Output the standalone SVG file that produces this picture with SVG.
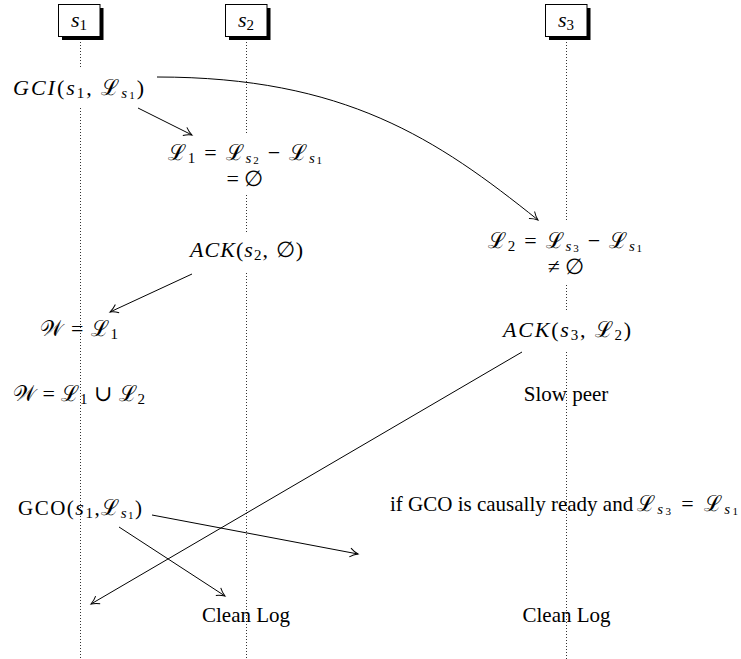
<svg xmlns="http://www.w3.org/2000/svg" width="741" height="659" viewBox="0 0 741 659">
<style>
.t{font-family:"Liberation Serif","DejaVu Serif",serif;font-size:21px;fill:#000}
.m{font-size:22px}
.i{font-style:italic}
.L{font-family:"DejaVu Serif",serif;font-style:normal;font-size:22px}
.W{font-style:normal;font-size:22px}
.sb{font-size:15px}
.ss{font-size:11px}
.life{stroke:#333;stroke-width:1;stroke-dasharray:1 2;fill:none}
.box{fill:#fff;stroke:#000;stroke-width:1}
.shadow{fill:#000}
.c{stroke:#000;stroke-width:1;fill:none;marker-end:url(#to)}
</style>
<defs>
<marker id="to" viewBox="-10 -6 12 12" refX="0" refY="0" markerWidth="12" markerHeight="12" markerUnits="userSpaceOnUse" orient="auto">
<path d="M-8,-4.5 C-5,-2 -2,-0.7 0,0 C-2,0.7 -5,2 -8,4.5" fill="none" stroke="#000" stroke-width="1"/>
</marker>
</defs>
<rect width="741" height="659" fill="#fff"/>
<g id="lifelines">
<path class="life" d="M80.5,42V68M80.5,108V659"/>
<path class="life" d="M246.5,42V135M246.5,195V232M246.5,273V659"/>
<path class="life" d="M566.5,42V220M566.5,285V310M566.5,352V659"/>
</g>
<g id="s1">
<rect class="shadow" x="62" y="8" width="41.5" height="32"/>
<rect class="box" x="58.5" y="4.5" width="41.5" height="32"/>
<text class="t m" x="79" y="27" text-anchor="middle"><tspan class="i">s</tspan><tspan class="sb" dy="3">1</tspan></text>
</g>
<g id="s2">
<rect class="shadow" x="229" y="8" width="41.5" height="32"/>
<rect class="box" x="225.5" y="4.5" width="41.5" height="32"/>
<text class="t m" x="246" y="27" text-anchor="middle"><tspan class="i">s</tspan><tspan class="sb" dy="3">2</tspan></text>
</g>
<g id="s3">
<rect class="shadow" x="549" y="8" width="41.5" height="32"/>
<rect class="box" x="545.5" y="4.5" width="41.5" height="32"/>
<text class="t m" x="566" y="27" text-anchor="middle"><tspan class="i">s</tspan><tspan class="sb" dy="3">3</tspan></text>
</g>
<g id="connectors">
<path class="c" d="M138,108L192,135"/>
<path class="c" d="M157,77C345,77 437,139 538,220"/>
<path class="c" d="M192,274L110,312"/>
<path class="c" d="M522,352L91,604"/>
<path class="c" d="M152,515L358,554"/>
<path class="c" d="M119,527L225,596"/>
</g>
<g id="gci">
<text class="t m" x="13" y="95" textLength="131" lengthAdjust="spacing"><tspan class="i">GCI</tspan>(<tspan class="i">s</tspan><tspan class="sb" dy="3">1</tspan><tspan dy="-3">, </tspan><tspan class="L">ℒ</tspan><tspan class="sb i" dy="3">s</tspan><tspan class="ss" dy="1">1</tspan><tspan dy="-4">)</tspan></text>
</g>
<g id="l1">
<text class="t m" x="168" y="160" textLength="154" lengthAdjust="spacing"><tspan class="L">ℒ</tspan><tspan class="sb" dy="3">1</tspan><tspan dy="-3"> = </tspan><tspan class="L">ℒ</tspan><tspan class="sb i" dy="3">s</tspan><tspan class="ss" dy="1">2</tspan><tspan dy="-4"> − </tspan><tspan class="L">ℒ</tspan><tspan class="sb i" dy="3">s</tspan><tspan class="ss" dy="1">1</tspan></text>
<text class="t m" x="245" y="186" text-anchor="middle">= ∅</text>
</g>
<g id="ack2">
<text class="t m" x="190" y="257" textLength="113" lengthAdjust="spacing"><tspan class="i">ACK</tspan>(<tspan class="i">s</tspan><tspan class="sb" dy="3">2</tspan><tspan dy="-3">, ∅)</tspan></text>
</g>
<g id="w1">
<text class="t m" x="40" y="336" textLength="78" lengthAdjust="spacing"><tspan class="W">𝒲</tspan> = <tspan class="L">ℒ</tspan><tspan class="sb" dy="3">1</tspan></text>
</g>
<g id="w2">
<text class="t m" x="13" y="401" textLength="132" lengthAdjust="spacing"><tspan class="W">𝒲</tspan> = <tspan class="L">ℒ</tspan><tspan class="sb" dy="3">1</tspan><tspan dy="-3"> ∪ </tspan><tspan class="L">ℒ</tspan><tspan class="sb" dy="3">2</tspan></text>
</g>
<g id="l2">
<text class="t m" x="488" y="248" textLength="154" lengthAdjust="spacing"><tspan class="L">ℒ</tspan><tspan class="sb" dy="3">2</tspan><tspan dy="-3"> = </tspan><tspan class="L">ℒ</tspan><tspan class="sb i" dy="3">s</tspan><tspan class="ss" dy="1">3</tspan><tspan dy="-4"> − </tspan><tspan class="L">ℒ</tspan><tspan class="sb i" dy="3">s</tspan><tspan class="ss" dy="1">1</tspan></text>
<text class="t m" x="566" y="274" text-anchor="middle">≠ ∅</text>
</g>
<g id="ack3">
<text class="t m" x="503" y="337" textLength="128" lengthAdjust="spacing"><tspan class="i">ACK</tspan>(<tspan class="i">s</tspan><tspan class="sb" dy="3">3</tspan><tspan dy="-3">, </tspan><tspan class="L">ℒ</tspan><tspan class="sb" dy="3">2</tspan><tspan dy="-3">)</tspan></text>
</g>
<g id="slow">
<text class="t" x="566" y="401" text-anchor="middle">Slow peer</text>
</g>
<g id="gco">
<text class="t" x="18" y="515" textLength="124" lengthAdjust="spacing">GCO(<tspan class="i m">s</tspan><tspan class="sb" dy="3">1</tspan><tspan dy="-3">,</tspan><tspan class="L">ℒ</tspan><tspan class="sb i" dy="3">s</tspan><tspan class="ss" dy="1">1</tspan><tspan dy="-4">)</tspan></text>
</g>
<g id="cond">
<text class="t" x="390" y="511">if GCO is causally ready and</text>
<text class="t m" x="637" y="511" textLength="101" lengthAdjust="spacing"><tspan class="L">ℒ</tspan><tspan class="sb i" dy="3">s</tspan><tspan class="ss" dy="1">3</tspan><tspan dy="-4"> = </tspan><tspan class="L">ℒ</tspan><tspan class="sb i" dy="3">s</tspan><tspan class="ss" dy="1">1</tspan></text>
</g>
<g id="clean1">
<text class="t" x="246" y="622" text-anchor="middle">Clean Log</text>
</g>
<g id="clean2">
<text class="t" x="566.5" y="622" text-anchor="middle">Clean Log</text>
</g>
</svg>
